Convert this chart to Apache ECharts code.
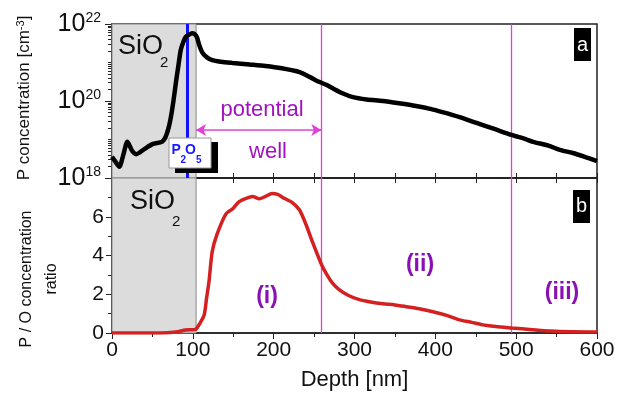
<!DOCTYPE html>
<html>
<head>
<meta charset="utf-8">
<script src="https://cdn.jsdelivr.net/npm/echarts@6/dist/echarts.min.js"></script>
<style>
  html, body { margin: 0; background: #fff; }
  #main { width: 630px; height: 403px; }
</style>
</head>
<body>
<div id="main"></div>
<script>
// panel a: P concentration (log10 of cm^-3) vs depth
const depthP = [0, 5, 9, 14, 19, 25, 30, 40, 50, 58, 62, 66, 70, 73, 76, 79, 82, 85, 88, 91, 95, 99, 102, 105, 108, 112, 117, 124, 135, 149, 170, 190, 210, 232, 245, 256, 265, 273, 285, 298, 315, 335, 355, 376, 395, 409, 430, 451, 472, 494, 510, 521, 540, 554, 570, 585, 600];
const logP = [18.55, 18.4, 18.29, 18.6, 18.94, 18.7, 18.62, 18.75, 18.88, 18.92, 18.94, 19.05, 19.3, 19.6, 20.0, 20.47, 20.9, 21.32, 21.52, 21.66, 21.72, 21.76, 21.74, 21.66, 21.45, 21.25, 21.14, 21.06, 21.02, 20.99, 20.95, 20.91, 20.85, 20.75, 20.62, 20.5, 20.42, 20.33, 20.2, 20.1, 20.04, 20.0, 19.94, 19.87, 19.79, 19.71, 19.58, 19.43, 19.28, 19.12, 19.02, 18.94, 18.84, 18.73, 18.65, 18.55, 18.44];

// panel b: P / O concentration ratio vs depth
const depthR = [0, 20, 40, 60, 79, 91, 100, 104, 108, 114, 117, 120, 124, 130, 141, 149, 157, 166, 174, 182, 190, 198, 205, 211, 223, 232, 240, 248, 259, 266, 273, 281, 292, 306, 320, 335, 350, 364, 380, 397, 415, 430, 445, 459, 475, 494, 520, 542, 570, 600];
const ratio = [0, 0, 0, 0, 0.05, 0.15, 0.17, 0.2, 0.45, 0.93, 1.8, 2.66, 4.2, 5.1, 6.15, 6.4, 6.77, 6.95, 7.04, 6.93, 7.05, 7.2, 7.15, 7.0, 6.73, 6.35, 5.6, 4.7, 3.55, 3.0, 2.56, 2.24, 1.95, 1.72, 1.6, 1.51, 1.45, 1.36, 1.25, 1.1, 0.9, 0.68, 0.55, 0.42, 0.33, 0.26, 0.17, 0.1, 0.06, 0.05];

const oxideEnd = 104;       // SiO2 / Si interface
const p2o5Depth = 93;       // P2O5 layer
const regionBounds = [259, 494];
const wellLevel = 19.25;    // height of the "potential well" arrow

// log minor ticks 1..9 x 10^n
const logTicks = [];
for (let n = 18; n < 22; n++) {
  for (let k = 1; k <= 9; k++) logTicks.push(n + Math.log10(k));
}
logTicks.push(22);

const FONT = 'Liberation Sans, Arial, sans-serif';
const axisColor = '#222';
const magenta = '#e040d8';
const purple = '#8a10b4';

const regionLines = regionBounds.map(function (d) {
  return { xAxis: d, lineStyle: { color: magenta, width: 1.3, type: 'solid' } };
});

const oxideArea = {
  silent: true,
  itemStyle: { color: '#dcdcdc', borderColor: '#888', borderWidth: 1 },
  data: [[{ xAxis: 0 }, { xAxis: oxideEnd }]]
};

// small helper for plain graphic texts
function txt(x, y, s, size, color, extra) {
  return {
    type: 'text', x: x, y: y, z: 30,
    style: Object.assign({ text: s, fill: color || '#111', fontSize: size, fontFamily: FONT, verticalAlign: 'middle' }, extra || {})
  };
}

const chart = echarts.init(document.getElementById('main'));

const option = {
  animation: false,
  textStyle: { fontFamily: FONT },
  grid: [
    { left: 112, right: 33, top: 24, height: 154, show: true, borderColor: axisColor, borderWidth: 1.5, backgroundColor: 'transparent' },
    { left: 112, right: 33, top: 178, height: 155, show: true, borderColor: axisColor, borderWidth: 1.5, backgroundColor: 'transparent' }
  ],
  xAxis: [
    {
      gridIndex: 0, type: 'value', min: 0, max: 600, interval: 100,
      axisLine: { lineStyle: { color: axisColor, width: 1.5 } },
      axisTick: { inside: true, length: 5, lineStyle: { color: axisColor } },
      minorTick: { show: true, splitNumber: 2, length: 5, lineStyle: { color: axisColor } },
      axisLabel: { show: false },
      splitLine: { show: false }
    },
    {
      gridIndex: 1, type: 'value', min: 0, max: 600, interval: 100,
      axisLine: { lineStyle: { color: axisColor, width: 1.5 } },
      axisTick: { length: 6, lineStyle: { color: axisColor } },
      minorTick: { show: true, splitNumber: 2, length: 4, lineStyle: { color: axisColor } },
      axisLabel: { fontSize: 21, color: '#111', margin: 7, fontFamily: FONT },
      splitLine: { show: false },
      name: 'Depth [nm]', nameLocation: 'middle', nameGap: 36,
      nameTextStyle: { fontSize: 22, color: '#111', fontFamily: FONT }
    },
    {
      gridIndex: 1, type: 'value', min: 0, max: 600, interval: 100, position: 'top',
      axisLine: { show: false },
      axisTick: { inside: true, length: 5, lineStyle: { color: axisColor } },
      minorTick: { show: true, splitNumber: 2, length: 5, lineStyle: { color: axisColor } },
      axisLabel: { show: false },
      splitLine: { show: false }
    }
  ],
  yAxis: [
    {
      gridIndex: 0, type: 'value', min: 18, max: 22, interval: 2,
      axisLine: { lineStyle: { color: axisColor, width: 1.5 } },
      axisTick: { length: 7, lineStyle: { color: axisColor } },
      axisLabel: {
        margin: 11, color: '#111',
        formatter: function (v) { return '{b|10}{s|' + v + '}'; },
        rich: {
          b: { fontSize: 25, fontFamily: FONT, color: '#111' },
          s: { fontSize: 14, fontFamily: FONT, color: '#111', verticalAlign: 'top', lineHeight: 6 }
        }
      },
      splitLine: { show: false }
    },
    {
      gridIndex: 1, type: 'value', min: 0, max: 8, interval: 2,
      axisLine: { lineStyle: { color: axisColor, width: 1.5 } },
      axisTick: { length: 6, lineStyle: { color: axisColor } },
      minorTick: { show: true, splitNumber: 2, length: 4, lineStyle: { color: axisColor } },
      axisLabel: {
        fontSize: 21, color: '#111', margin: 8, fontFamily: FONT,
        formatter: function (v) { return v === 8 ? '' : String(v); }
      },
      splitLine: { show: false }
    },
    {
      gridIndex: 0, type: 'value', min: 18, max: 22, position: 'left', offset: 0,
      axisLine: { show: false },
      axisTick: { length: 4, customValues: logTicks, lineStyle: { color: axisColor } },
      axisLabel: { show: false },
      splitLine: { show: false }
    }
  ],
  series: [
    {
      type: 'line', xAxisIndex: 0, yAxisIndex: 0,
      data: depthP.map(function (d, i) { return [d, logP[i]]; }),
      showSymbol: false, smooth: 0.25,
      lineStyle: { color: '#000', width: 4.5 },
      markArea: oxideArea,
      markLine: {
        silent: true, symbol: 'none', label: { show: false },
        data: regionLines.concat([
          { xAxis: p2o5Depth, lineStyle: { color: '#1010ff', width: 3, type: 'solid' } },
          [
            { coord: [oxideEnd, wellLevel], symbol: 'arrow' },
            { coord: [regionBounds[0], wellLevel], symbol: 'arrow' }
          ]
        ]),
        symbolSize: [9, 10],
        lineStyle: { color: magenta, width: 1.6, type: 'solid' }
      },
      z: 5
    },
    {
      type: 'line', xAxisIndex: 1, yAxisIndex: 1,
      data: depthR.map(function (d, i) { return [d, ratio[i]]; }),
      showSymbol: false, smooth: 0.25,
      lineStyle: { color: '#d42020', width: 3.5 },
      markArea: oxideArea,
      markLine: { silent: true, symbol: 'none', label: { show: false }, data: regionLines },
      z: 5
    }
  ],
  graphic: [
    // y axis names
    {
      type: 'text', x: 24, y: 98, rotation: Math.PI / 2, z: 30,
      style: {
        text: 'P concentration [cm{s|-3}]', fill: '#111', fontSize: 17, fontFamily: FONT,
        align: 'center', verticalAlign: 'middle',
        rich: { s: { fontSize: 11, fontFamily: FONT, fill: '#111', verticalAlign: 'top', lineHeight: 4 } }
      }
    },
    {
      type: 'text', x: 27, y: 279, rotation: Math.PI / 2, z: 30,
      style: { text: 'P / O concentration', fill: '#111', fontSize: 16, fontFamily: FONT, align: 'center', verticalAlign: 'middle' }
    },
    {
      type: 'text', x: 52, y: 279, rotation: Math.PI / 2, z: 30,
      style: { text: 'ratio', fill: '#111', fontSize: 16, fontFamily: FONT, align: 'center', verticalAlign: 'middle' }
    },
    // SiO2 labels
    txt(118, 47, 'SiO', 27),
    txt(160, 63, '2', 15),
    txt(130, 202, 'SiO', 27),
    txt(172, 222, '2', 15),
    // P2O5 box
    { type: 'rect', shape: { x: 175, y: 142, width: 43, height: 31 }, style: { fill: '#000' }, z: 20 },
    { type: 'rect', shape: { x: 169, y: 138, width: 42, height: 30 }, style: { fill: '#fff', stroke: '#999', lineWidth: 1 }, z: 21 },
    txt(171.5, 150, 'P', 14, '#1a1aff', { fontWeight: 'bold' }),
    txt(180.5, 160, '2', 10, '#1a1aff', { fontWeight: 'bold' }),
    txt(185, 150, 'O', 14, '#1a1aff', { fontWeight: 'bold' }),
    txt(196, 160, '5', 10, '#1a1aff', { fontWeight: 'bold' }),
    // potential well text
    txt(262, 110, 'potential', 22, '#a012c0', { align: 'center' }),
    txt(268, 152, 'well', 22, '#a012c0', { align: 'center' }),
    // region labels
    txt(267, 297, '(i)', 23, purple, { fontWeight: 'bold', align: 'center' }),
    txt(420, 265, '(ii)', 23, purple, { fontWeight: 'bold', align: 'center' }),
    txt(562, 293, '(iii)', 23, purple, { fontWeight: 'bold', align: 'center' }),
    // panel tags
    { type: 'rect', shape: { x: 574, y: 28, width: 17, height: 33 }, style: { fill: '#000' }, z: 20 },
    txt(582.5, 45, 'a', 20, '#fff', { align: 'center' }),
    { type: 'rect', shape: { x: 573, y: 190, width: 17, height: 33 }, style: { fill: '#000' }, z: 20 },
    txt(581.5, 206, 'b', 20, '#fff', { align: 'center' })
  ]
};

chart.setOption(option);
</script>
</body>
</html>
